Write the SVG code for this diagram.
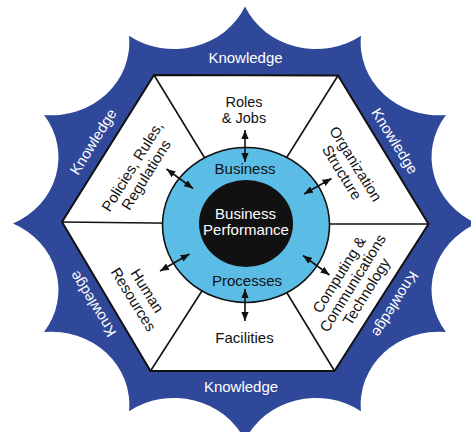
<svg xmlns="http://www.w3.org/2000/svg" width="471" height="432" viewBox="0 0 471 432">
<style>
text{font-family:"Liberation Sans",Arial,sans-serif;font-size:15px;text-anchor:middle}
.k{fill:#ffffff}
.lbl{fill:#111111}
.spoke{stroke:#111;stroke-width:1.6;fill:none}
.arr{stroke:#111;stroke-width:1.6;fill:none;marker-start:url(#ah);marker-end:url(#ah)}
</style>
<defs>
<marker id="ah" viewBox="0 0 10 8" refX="10" refY="4" markerWidth="9" markerHeight="7.5" orient="auto-start-reverse" markerUnits="userSpaceOnUse"><path d="M0,0 L10,4 L0,8 Z" fill="#111"/></marker>
</defs>
<rect width="471" height="432" fill="#ffffff"/>
<g id="knowledge-star">
<path transform="translate(245,223.5) scale(1,0.935)" fill="#2f4899" d="M232,0 A78,78 0 0 1 200.92,-116 A78,78 0 0 1 116,-200.92 A78,78 0 0 1 0,-232 A78,78 0 0 1 -116,-200.92 A78,78 0 0 1 -200.92,-116 A78,78 0 0 1 -232,0 A78,78 0 0 1 -200.92,116 A78,78 0 0 1 -116,200.92 A78,78 0 0 1 0,232 A78,78 0 0 1 116,200.92 A78,78 0 0 1 200.92,116 A78,78 0 0 1 232,0 Z"/>
<text class="k" x="245.5" y="62.7">Knowledge</text>
<text class="k" x="241" y="392.3">Knowledge</text>
<text class="k" transform="translate(395,141) rotate(58.2)" y="5.4">Knowledge</text>
<text class="k" transform="translate(395.5,304.5) rotate(121.8)" y="5.4">Knowledge</text>
<text class="k" transform="translate(92.5,304) rotate(-121.8)" y="5.4">Knowledge</text>
<text class="k" transform="translate(93,141.5) rotate(-58.2)" y="5.4">Knowledge</text>
</g>
<g id="hexagon">
<polygon points="154,75 338,75.5 428.5,224 334.5,371 150.5,371 62,222" fill="#ffffff" stroke="#111" stroke-width="2"/>
</g>
<g id="spokes">
<line class="spoke" x1="154" y1="75" x2="245" y2="224"/>
<line class="spoke" x1="338" y1="75.5" x2="245" y2="224"/>
<line class="spoke" x1="428.5" y1="224" x2="245" y2="224"/>
<line class="spoke" x1="334.5" y1="371" x2="245" y2="224"/>
<line class="spoke" x1="150.5" y1="371" x2="245" y2="224"/>
<line class="spoke" x1="62" y1="222" x2="245" y2="224"/>
</g>
<g id="roles-jobs">
<text class="lbl" x="244" y="107" style="font-size:14.5px">Roles</text>
<text class="lbl" x="244" y="123.2" style="font-size:14.5px">&amp; Jobs</text>
</g>
<g id="organization-structure" transform="translate(349,168) rotate(58.2)">
<text class="lbl" y="-2.7">Organization</text>
<text class="lbl" y="13.5">Structure</text>
</g>
<g id="policies" transform="translate(139,170.5) rotate(-58.2)">
<text class="lbl" y="-2.7">Policies, Rules,</text>
<text class="lbl" y="13.5">Regulations</text>
</g>
<g id="human-resources" transform="translate(140.5,295) rotate(58.2)">
<text class="lbl" y="-2.7">Human</text>
<text class="lbl" y="13.5">Resources</text>
</g>
<g id="computing" transform="translate(352.5,283) rotate(-58.2)">
<text class="lbl" y="-10.6">Computing &amp;</text>
<text class="lbl" y="5.4">Communications</text>
<text class="lbl" y="21.4">Technology</text>
</g>
<g id="facilities">
<text class="lbl" x="244.5" y="343.3">Facilities</text>
</g>
<g id="business-processes">
<ellipse cx="246" cy="225" rx="83.5" ry="77.5" fill="#5bbde5" stroke="#111" stroke-width="1.6"/>
<text class="lbl" x="245" y="174.3">Business</text>
<text class="lbl" x="247" y="286">Processes</text>
</g>
<g id="business-performance">
<ellipse cx="246" cy="223.5" rx="47" ry="43.5" fill="#111111"/>
<text class="k" x="245.5" y="219">Business</text>
<text class="k" x="246" y="235">Performance</text>
</g>
<g id="connectors">
<line class="arr" x1="245" y1="130" x2="245" y2="162"/>
<line class="arr" x1="245" y1="289" x2="245" y2="321"/>
<line class="arr" x1="166.5" y1="169" x2="193" y2="188.5"/>
<line class="arr" x1="331.5" y1="178.5" x2="304" y2="194"/>
<line class="arr" x1="160" y1="271" x2="189.5" y2="254"/>
<line class="arr" x1="303" y1="255.5" x2="329.5" y2="275"/>
</g>
</svg>
